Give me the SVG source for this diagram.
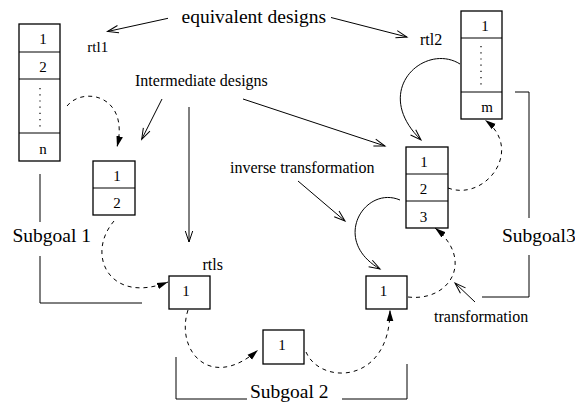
<svg xmlns="http://www.w3.org/2000/svg" width="575" height="410" viewBox="0 0 575 410">
<style>
text{font-family:"Liberation Serif","Times New Roman",serif;fill:#000}
.big{font-size:19.5px}
.lab{font-size:16px}
.num{font-size:15px;text-anchor:middle}
.box{fill:#fff;stroke:#000;stroke-width:1.3}
.ln{fill:none;stroke:#000;stroke-width:1}
.dash{fill:none;stroke:#000;stroke-width:1;stroke-dasharray:4 4}
.dots{fill:none;stroke:#000;stroke-width:1.2;stroke-dasharray:1.2 5}
</style>
<defs>
<marker id="open" markerUnits="userSpaceOnUse" markerWidth="14" markerHeight="10" viewBox="0 0 14 10" refX="12" refY="5" orient="auto">
<path d="M1,1.3 L12,5 L1,8.7" fill="none" stroke="#000" stroke-width="1"/>
</marker>
<marker id="fill" markerUnits="userSpaceOnUse" markerWidth="12" markerHeight="8" viewBox="0 0 12 8" refX="11" refY="4" orient="auto">
<path d="M0,0.7 L11,4 L0,7.3 z" fill="#000"/>
</marker>
</defs>

<g id="rtl1">
<rect class="box" x="19" y="24" width="41" height="137"/>
<line class="ln" x1="19" y1="52" x2="60" y2="52" stroke-width="1.3"/>
<line class="ln" x1="19" y1="79" x2="60" y2="79" stroke-width="1.3"/>
<line class="ln" x1="19" y1="133" x2="60" y2="133" stroke-width="1.3"/>
<text class="num" x="43" y="44">1</text>
<text class="num" x="43" y="72">2</text>
<line class="dots" x1="40" y1="88" x2="40" y2="127"/>
<text class="num" x="43" y="154">n</text>
</g>

<g id="rtl2">
<rect class="box" x="461" y="11" width="41" height="108"/>
<line class="ln" x1="461" y1="38" x2="502" y2="38" stroke-width="1.3"/>
<line class="ln" x1="461" y1="92" x2="502" y2="92" stroke-width="1.3"/>
<text class="num" x="485" y="31">1</text>
<line class="dots" x1="481" y1="46" x2="481" y2="86"/>
<text class="num" x="487" y="112">m</text>
</g>

<g id="stack2">
<rect class="box" x="93" y="161" width="42" height="54"/>
<line class="ln" x1="93" y1="188" x2="135" y2="188" stroke-width="1.3"/>
<text class="num" x="117" y="181">1</text>
<text class="num" x="117" y="207.5">2</text>
</g>

<g id="stack3">
<rect class="box" x="406" y="147" width="42" height="81"/>
<line class="ln" x1="406" y1="174" x2="448" y2="174" stroke-width="1.3"/>
<line class="ln" x1="406" y1="201" x2="448" y2="201" stroke-width="1.3"/>
<text class="num" x="424" y="167">1</text>
<text class="num" x="423.5" y="194">2</text>
<text class="num" x="423.5" y="221.5">3</text>
</g>

<g id="rtls">
<rect class="box" x="169" y="276" width="41" height="33"/>
<text class="num" x="186" y="296">1</text>
</g>

<g id="box-bottom">
<rect class="box" x="263" y="330" width="41" height="34"/>
<text class="num" x="282" y="350">1</text>
</g>

<g id="box-right">
<rect class="box" x="366" y="276" width="41" height="33"/>
<text class="num" x="383.5" y="296">1</text>
</g>

<g id="labels">
<text class="big" x="181.5" y="23">equivalent designs</text>
<text style="font-size:15px" x="87.3" y="52.3">rtl1</text>
<text class="lab" x="420" y="45">rtl2</text>
<text class="lab" x="135" y="86">Intermediate designs</text>
<text class="lab" x="230" y="173">inverse transformation</text>
<text class="lab" x="202.5" y="269.5">rtls</text>
<text class="lab" x="434" y="321.7">transformation</text>
<text class="big" x="12.5" y="241.7">Subgoal 1</text>
<text class="big" x="250" y="397.5">Subgoal 2</text>
<text class="big" x="502" y="241.7">Subgoal3</text>
</g>

<g id="connectors">
<line class="ln" x1="168" y1="18.3" x2="107.5" y2="31.5" marker-end="url(#open)"/>
<line class="ln" x1="331" y1="17.5" x2="407" y2="37" marker-end="url(#open)"/>
<line class="ln" x1="162" y1="99" x2="141.7" y2="139.3" marker-end="url(#open)"/>
<line class="ln" x1="189" y1="107" x2="189" y2="242" marker-end="url(#open)"/>
<line class="ln" x1="243" y1="99" x2="385" y2="146" marker-end="url(#open)"/>
<line class="ln" x1="298" y1="181" x2="345" y2="221" marker-end="url(#open)"/>
<line class="ln" x1="475" y1="302" x2="455" y2="283" marker-end="url(#open)"/>

<path class="ln" d="M460,64 C425,42 370,90 421,140" marker-end="url(#open)"/>
<path class="ln" d="M400,200 C365,185 330,240 380,269" marker-end="url(#open)"/>

<path class="dash" d="M67,106 C83,86 130,95 117,147" marker-end="url(#fill)"/>
<path class="dash" d="M114,221 C85,255 110,305 168,282" marker-end="url(#fill)"/>
<path class="dash" d="M188,310 C175,350 210,392 258,350" marker-end="url(#fill)"/>
<path class="dash" d="M306,352 C320,385 390,385 390,310" marker-end="url(#fill)"/>
<path class="dash" d="M408,297 C450,302 475,260 435,228" marker-end="url(#fill)"/>
<path class="dash" d="M448,188 C485,202 525,150 485,120" marker-end="url(#fill)"/>

<polyline class="ln" points="40,174 40,222"/>
<polyline class="ln" points="40,256 40,303 142,303"/>
<polyline class="ln" points="176,357 176,399 247,399"/>
<polyline class="ln" points="342,399 407,399 407,364"/>
<polyline class="ln" points="515,92 529,92 529,218"/>
<polyline class="ln" points="529,255 529,297 482,297"/>
</g>
</svg>
